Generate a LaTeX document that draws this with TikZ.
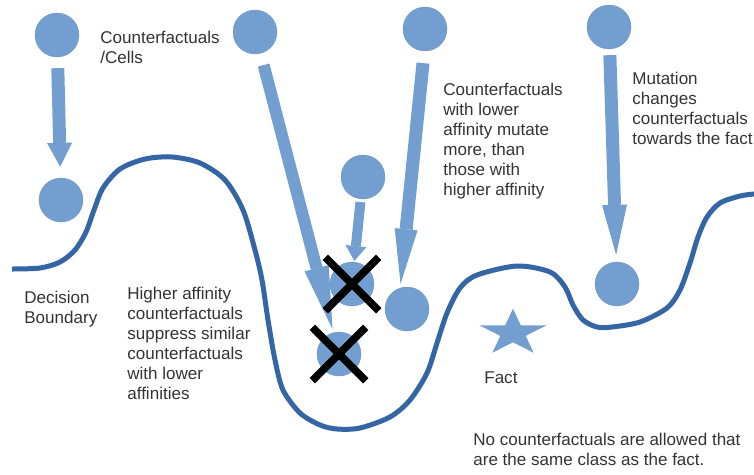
\documentclass[tikz,border=0pt]{standalone}
\usepackage{fontspec}
\setmainfont{Liberation Sans}
\usepackage{tikz}
\usetikzlibrary{arrows.meta,shapes.misc}
\definecolor{cellblue}{HTML}{729FCF}
\definecolor{edgeblue}{HTML}{3465A4}
\definecolor{textgray}{HTML}{333333}

\begin{document}
\begin{tikzpicture}[x=0.02cm, y=-0.02cm,
    cell/.style={circle, fill=cellblue, draw=cellblue!92!black, very thin, minimum size=0.88cm, inner sep=0pt},
    flow/.style={draw=cellblue, fill=cellblue},
    killed/.style={cross out, draw=black, line width=0.15cm, minimum size=0.92cm, inner sep=0pt},
    note/.style={anchor=north west, inner sep=0pt, align=left, text=textgray, font=\fontsize{9.7}{11.4}\selectfont}]
    \useasboundingbox (0,0) rectangle (754,474);
    % decision boundary
    \draw[edgeblue, line width=0.1cm] plot[smooth, tension=0.5] coordinates {
      (12,269) (40,268) (60,262) (75,250) (86,232) (94,210) (103,188) (120,169)
      (145,159) (172,157) (200,163) (225,180) (243,210) (255,250) (262,280)
      (268,320) (275,360) (283,390) (300,413) (320,425) (337,429) (360,428)
      (390,417) (410,400) (427,373) (437,343) (447,313) (460,288) (477,275)
      (517,266) (550,272) (565,287) (573,305) (583,320) (597,327) (612,327)
      (640,322) (667,308) (680,290) (690,263) (698,237) (707,217) (720,203)
      (740,196) (754,194)};
    % fact
    \coordinate (fact) at (513,333);
    \fill[cellblue, shift={(fact)}, yscale=-0.695] (90:35) -- (126:13.4) -- (162:35) -- (198:13.4) -- (234:35)
      -- (270:13.4) -- (306:35) -- (342:13.4) -- (18:35) -- (54:13.4) -- cycle;
    % cells
    \node[cell] (cellA) at (57,35) {};
    \node[cell] (cellB) at (61,200) {};
    \node[cell] (cellC) at (255,32) {};
    \node[cell] (cellD) at (363,177) {};
    \node[cell] (cellE) at (352,284) {};
    \node[cell] (cellF) at (339,354) {};
    \node[cell] (cellG) at (407,309) {};
    \node[cell] (cellH) at (425,29) {};
    \node[cell] (cellI) at (609,27) {};
    \node[cell] (cellJ) at (617,284) {};
    % mutation arrows
    \draw[flow, line width=0.26cm, -{Triangle[length=0.48cm, width=0.5cm, line width=0pt]},
      shorten <=0.22cm, shorten >=0.22cm] (cellA) -- (cellB);
    \draw[flow, line width=0.24cm, -{Triangle[length=1.26cm, width=0.5cm, line width=0pt]},
      shorten <=0.24cm, shorten >=0.07cm] (cellC) -- (cellF);
    \draw[flow, line width=0.26cm, -{Triangle[length=1.1cm, width=0.46cm, line width=0pt]},
      shorten <=0.24cm, shorten >=0.08cm] (cellH.-92) -- (cellG.108);
    \draw[flow, line width=0.2cm, -{Triangle[length=0.3cm, width=0.42cm, line width=0pt]},
      shorten <=0.06cm, shorten >=0.02cm] (cellD) -- (cellE);
    \draw[flow, line width=0.26cm, -{Triangle[length=1.0cm, width=0.5cm, line width=0pt]},
      shorten <=0.12cm, shorten >=0.14cm] (cellI) -- (cellJ);
    % suppressed cells
    \node[killed] (crossE) at (cellE) {};
    \node[killed] (crossF) at (cellF) {};
    % labels
    \node[note] (cellsText) at (100,31) {Counterfactuals\\/Cells};
    \node[note] (mutateText) at (443,83) {Counterfactuals\\with lower\\affinity mutate\\more, than\\those with\\higher affinity};
    \node[note] (towardsText) at (632,72) {Mutation\\changes\\counterfactuals\\towards the fact};
    \node[note] (boundaryText) at (24,291) {Decision\\Boundary};
    \node[note] (suppressText) at (127,287) {Higher affinity\\counterfactuals\\suppress similar\\counterfactuals\\with lower\\affinities};
    \node[note] (factText) at (484,371) {Fact};
    \node[note] (classText) at (473,433) {No counterfactuals are allowed that\\are the same class as the fact.};
\end{tikzpicture}
\end{document}
